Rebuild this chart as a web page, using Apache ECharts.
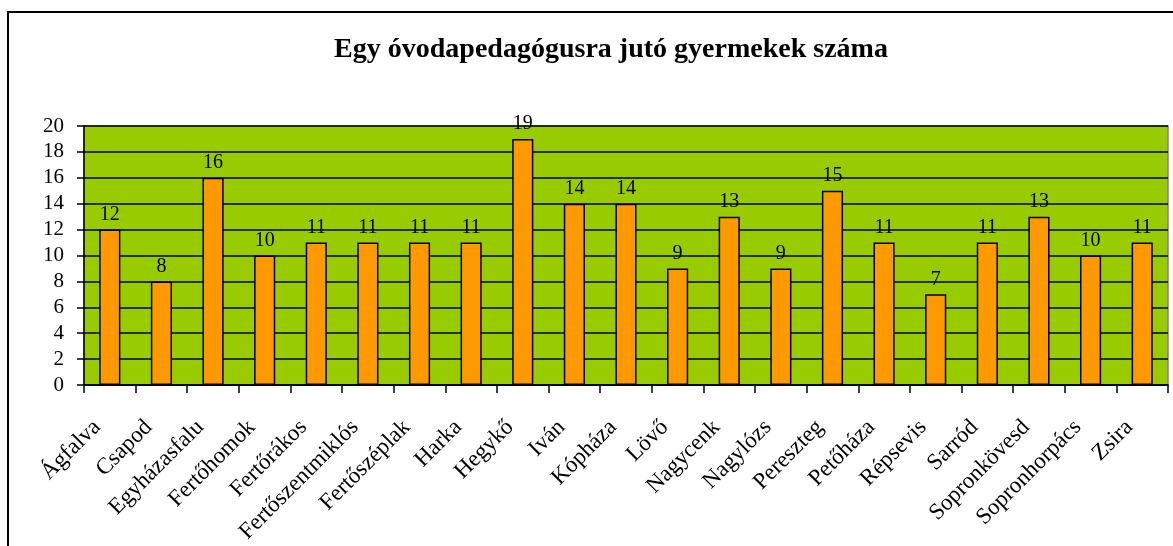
<!DOCTYPE html>
<html>
<head>
<meta charset="utf-8">
<script src="https://cdn.jsdelivr.net/npm/echarts@6/dist/echarts.min.js"></script>
<style>
  html, body { margin: 0; padding: 0; background: #fff; }
  #container { width: 1173px; height: 546px; }
</style>
</head>
<body>
<div id="container"></div>
<script>
var dom = document.getElementById("container");
var myChart = echarts.init(dom);

var titleText = 'Egy óvodapedagógusra jutó gyermekek száma';
var categories = ['Ágfalva', 'Csapod', 'Egyházasfalu', 'Fertőhomok', 'Fertőrákos',
    'Fertőszentmiklós', 'Fertőszéplak', 'Harka', 'Hegykő', 'Iván', 'Kópháza',
    'Lövő', 'Nagycenk', 'Nagylózs', 'Pereszteg', 'Petőháza', 'Répsevis',
    'Sarród', 'Sopronkövesd', 'Sopronhorpács', 'Zsira'];
var values = [12, 8, 16, 10, 11, 11, 11, 11, 19, 14, 14, 9, 13, 9, 15, 11, 7, 11, 13, 10, 11];

var serif = '"Liberation Serif", "DejaVu Serif", serif';

var option = {
    animation: false,
    backgroundColor: '#ffffff',
    graphic: [{
        type: 'rect',
        shape: { x: 8, y: 12, width: 1200, height: 600 },
        style: { fill: 'none', stroke: '#000', lineWidth: 2 },
        silent: true
    }],
    title: {
        text: titleText,
        left: 606,
        top: 31,
        textAlign: 'center',
        textStyle: {
            fontFamily: serif,
            fontWeight: 'bold',
            fontSize: 28,
            color: '#000'
        }
    },
    grid: {
        left: 84,
        right: 5,
        top: 126,
        height: 260,
        backgroundColor: '#99cc00',
        borderColor: '#808080',
        borderWidth: 1.5,
        show: true,
        containLabel: false
    },
    xAxis: {
        type: 'category',
        data: categories,
        axisLine: { lineStyle: { color: '#000', width: 1.5 } },
        axisTick: { show: true, length: 8, lineStyle: { color: '#000', width: 1.5 } },
        axisLabel: {
            rotate: 45,
            interval: 0,
            margin: 26,
            padding: [0, 18, 0, 0],
            fontFamily: serif,
            fontSize: 23,
            color: '#000'
        },
        splitLine: { show: false }
    },
    yAxis: {
        type: 'value',
        min: 0,
        max: 20,
        interval: 2,
        axisLine: { show: true, lineStyle: { color: '#000', width: 1.5 } },
        axisTick: { show: true, length: 7, lineStyle: { color: '#000', width: 1.5 } },
        axisLabel: {
            fontFamily: serif,
            fontSize: 21,
            color: '#000',
            margin: 20
        },
        splitLine: { show: true, lineStyle: { color: '#000', width: 1.5 } }
    },
    series: [{
        name: 'gyermek',
        type: 'bar',
        data: values,
        barWidth: '41%',
        itemStyle: {
            color: '#ff9900',
            borderColor: '#000',
            borderWidth: 1.5
        },
        label: {
            show: true,
            position: 'top',
            distance: 5,
            fontFamily: serif,
            fontSize: 20,
            color: '#000'
        }
    }]
};

if (option && typeof option === "object") {
    myChart.setOption(option, true);
}
</script>
</body>
</html>
